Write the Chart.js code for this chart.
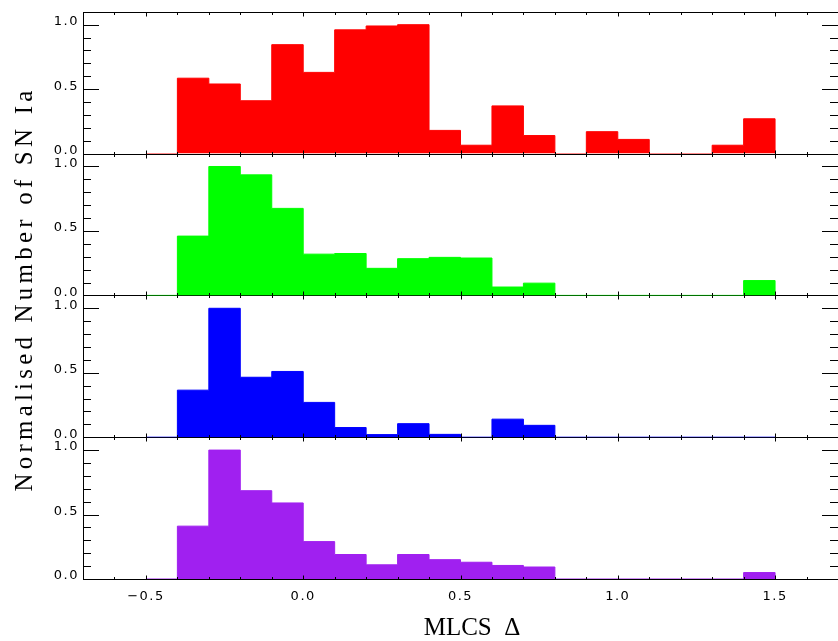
<!DOCTYPE html>
<html>
<head>
<meta charset="utf-8">
<script src="https://cdn.jsdelivr.net/npm/chart.js@4/dist/chart.umd.min.js"></script>
<style>
html, body { margin: 0; padding: 0; background: #fff; }
</style>
</head>
<body>
<canvas id="chart" width="838" height="641"></canvas>
<script>
// histogram bins (left edges, width 0.1)
const binLeft = [-0.4, -0.3, -0.2, -0.1, 0.0, 0.1, 0.2, 0.3, 0.4, 0.5, 0.6, 0.7, 0.8, 0.9, 1.0, 1.1, 1.2, 1.3, 1.4];
const binWidth = 0.1;

// normalised counts per panel
const redVals    = [0.585, 0.54, 0.41, 0.845, 0.63, 0.96, 0.99, 1.0, 0.18, 0.065, 0.37, 0.14, 0, 0.17, 0.11, 0, 0, 0.065, 0.27];
const greenVals  = [0.46, 1.0, 0.935, 0.675, 0.32, 0.325, 0.21, 0.285, 0.295, 0.29, 0.065, 0.095, 0, 0, 0, 0, 0, 0, 0.115];
const blueVals   = [0.365, 1.0, 0.465, 0.51, 0.27, 0.075, 0.02, 0.105, 0.022, 0, 0.14, 0.092, 0, 0, 0, 0, 0, 0, 0];
const purpleVals = [0.41, 1.0, 0.685, 0.59, 0.29, 0.19, 0.11, 0.19, 0.15, 0.13, 0.105, 0.093, 0, 0, 0, 0, 0, 0, 0.05];

const xTickValues = [-0.5, 0.0, 0.5, 1.0, 1.5];
const yTickValues = [0.0, 0.5, 1.0];

// bottom panel first: chart.js puts the last left axis on top of the stack
const panels = [
    { id: 'yPurple', vals: purpleVals, color: '#a020f0' },
    { id: 'yBlue',   vals: blueVals,   color: '#0000ff' },
    { id: 'yGreen',  vals: greenVals,  color: '#00ff00' },
    { id: 'yRed',    vals: redVals,    color: '#ff0000' }
];

// points at bin left edges; stepped:'before' runs flat to the next edge, then steps
function stepData(vals) {
    const pts = [{ x: binLeft[0] - binWidth, y: 0 }];
    binLeft.forEach((b, i) => pts.push({ x: b, y: vals[i] }));
    pts.push({ x: binLeft[binLeft.length - 1] + binWidth, y: 0 });
    return pts;
}

function fmt(v) {
    const s = Math.abs(v).toFixed(1);
    return v < -1e-9 ? '\u2212' + s : s;
}

const tickFont = { family: "'DejaVu Sans', sans-serif", size: 13 };

const scales = {
    x: {
        type: 'linear',
        min: -0.7,
        max: 1.7,
        afterBuildTicks: s => { s.ticks = xTickValues.map(v => ({ value: v })); },
        afterFit: s => { s.height = 62; },
        grid: { display: false, drawTicks: false },
        border: { display: false },
        ticks: { color: '#000', font: tickFont, padding: 10, maxRotation: 0, autoSkip: false, callback: v => fmt(v) }
    }
};
panels.forEach(p => {
    scales[p.id] = {
        type: 'linear',
        position: 'left',
        stack: 'panels',
        stackWeight: 1,
        min: 0,
        max: 1.1,
        afterBuildTicks: s => { s.ticks = yTickValues.map(v => ({ value: v })); },
        afterFit: s => { s.width = 83; },
        grid: { display: false, drawTicks: false },
        border: { display: false },
        ticks: { color: '#000', font: tickFont, padding: 4, labelOffset: -3, callback: v => fmt(v) }
    };
});

// frame, inward ticks and axis titles
const panelFrame = {
    id: 'panelFrame',
    beforeDraw(chart) {
        chart.ctx.letterSpacing = '1.5px';
    },
    beforeDatasetsDraw(chart) {
        const { ctx, chartArea } = chart;
        ctx.save();
        ctx.strokeStyle = '#000';
        ctx.lineWidth = 1;
        panels.forEach(p => {
            const s = chart.scales[p.id];
            ctx.strokeRect(Math.round(chartArea.left) + 0.5, Math.round(s.top) + 0.5,
                chartArea.right - chartArea.left, Math.round(s.bottom) - Math.round(s.top));
        });
        ctx.restore();
    },
    afterDatasetsDraw(chart) {
        const { ctx, chartArea } = chart;
        const xs = chart.scales.x;
        ctx.save();
        ctx.strokeStyle = '#000';
        ctx.lineWidth = 1;
        ctx.beginPath();
        panels.forEach(p => {
            const s = chart.scales[p.id];
            const top = Math.round(s.top) + 0.5, bot = Math.round(s.bottom) + 0.5;
            for (let k = -6; k <= 16; k++) {
                const px = Math.round(xs.getPixelForValue(k / 10)) + 0.5;
                const len = k % 5 === 0 ? 4 : 2.5;
                ctx.moveTo(px, top); ctx.lineTo(px, top + len);
                ctx.moveTo(px, bot); ctx.lineTo(px, bot - len);
            }
            for (let k = 0; k <= 10; k++) {
                const py = Math.round(s.getPixelForValue(k / 10)) + 0.5;
                const len = k % 5 === 0 ? 16 : 8;
                ctx.moveTo(chartArea.left, py); ctx.lineTo(chartArea.left + len, py);
                ctx.moveTo(chartArea.right, py); ctx.lineTo(chartArea.right - len, py);
            }
        });
        ctx.stroke();
        ctx.restore();
    },
    afterDraw(chart) {
        const ctx = chart.ctx;
        ctx.save();
        ctx.fillStyle = '#000';
        ctx.font = "25px 'Liberation Serif', serif";
        ctx.textAlign = 'center';
        ctx.textBaseline = 'alphabetic';
        ctx.letterSpacing = '0px';
        ctx.fillText('MLCS  \u0394', 472, 635);
        ctx.letterSpacing = '4.2px';
        ctx.translate(32, 289);
        ctx.rotate(-Math.PI / 2);
        ctx.fillText('Normalised Number of SN Ia', 0, 0);
        ctx.restore();
    }
};

new Chart(document.getElementById('chart'), {
    type: 'line',
    data: {
        datasets: panels.map(p => ({
            data: stepData(p.vals),
            yAxisID: p.id,
            xAxisID: 'x',
            stepped: 'before',
            borderColor: p.color,
            backgroundColor: p.color,
            borderWidth: 1,
            pointRadius: 0,
            fill: 'origin'
        }))
    },
    options: {
        responsive: false,
        animation: false,
        devicePixelRatio: 1,
        layout: { padding: { top: 6, left: 0, right: -6.4, bottom: 0 } },
        plugins: { legend: { display: false }, tooltip: { enabled: false }, title: { display: false } },
        scales: scales
    },
    plugins: [panelFrame]
});
</script>
</body>
</html>
